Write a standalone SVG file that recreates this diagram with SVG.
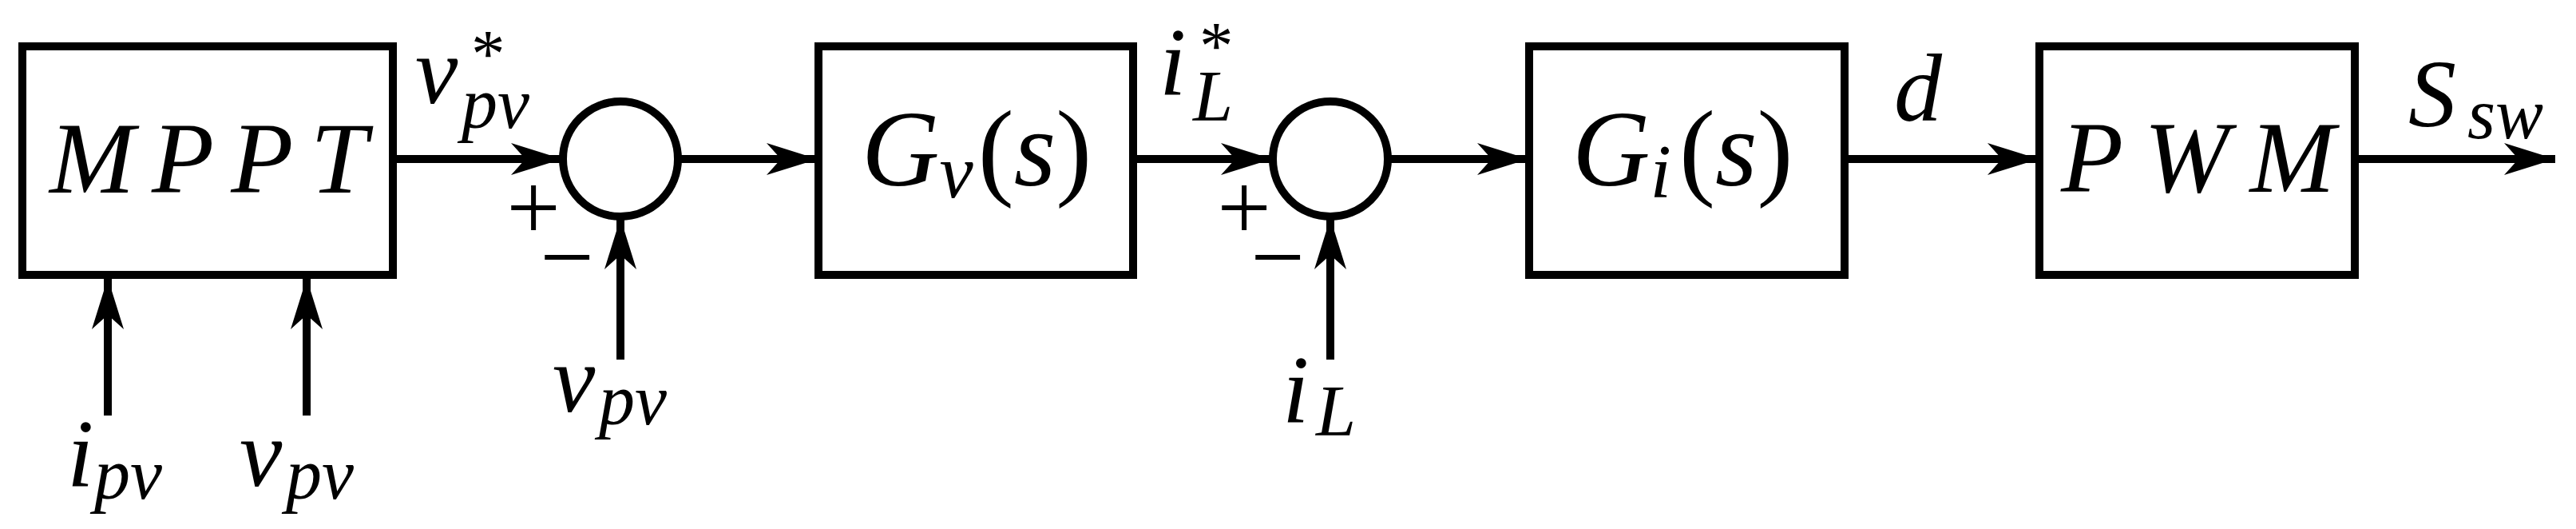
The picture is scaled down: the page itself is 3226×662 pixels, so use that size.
<svg xmlns="http://www.w3.org/2000/svg" width="3226" height="662" viewBox="0 0 3226 662">
<style>
.b{fill:#fff;stroke:#000;stroke-width:10}
.c{stroke:#000;stroke-width:10;fill:none}
.t{font-style:italic;fill:#000}
.u{font-style:normal;fill:#000}
</style>
<defs>
<marker id="a" markerUnits="userSpaceOnUse" markerWidth="80" markerHeight="50" viewBox="-70 -25 80 50" refX="0" refY="0" orient="auto">
<path d="M0,0 L-64,-20 L-46,0 L-64,20 Z" fill="#000"/>
</marker>
</defs>
<rect width="3226" height="662" fill="#fff"/>
<g id="connectors" class="c" marker-end="url(#a)">
<line x1="492" y1="199" x2="704" y2="199"/>
<line x1="849" y1="199" x2="1024" y2="199"/>
<line x1="1419" y1="199" x2="1593" y2="199"/>
<line x1="1738" y1="199" x2="1914" y2="199"/>
<line x1="2310" y1="199" x2="2553" y2="199"/>
<line x1="2949" y1="199" x2="3200" y2="199"/>
<line x1="135" y1="520" x2="135" y2="348"/>
<line x1="384" y1="520" x2="384" y2="348"/>
<line x1="777" y1="450" x2="777" y2="273"/>
<line x1="1666" y1="450" x2="1666" y2="273"/>
</g>
<g font-family="'Liberation Serif', 'DejaVu Serif', 'Times New Roman', serif">
<g id="mppt"><rect class="b" x="28" y="58" width="464" height="286"/>
<text class="t" x="62" y="241" font-size="128" textLength="398" lengthAdjust="spacing">MPPT</text></g>
<g id="sum1"><circle class="c" cx="777" cy="199" r="72"/>
<text class="u" x="668" y="300" font-size="120" text-anchor="middle">+</text>
<text class="u" x="710" y="362" font-size="120" text-anchor="middle">−</text></g>
<g id="gv"><rect class="b" x="1025" y="58" width="394" height="286"/>
<text class="t" x="1079" y="232" font-size="135">G<tspan font-size="95" dy="15">v</tspan><tspan class="u" dx="6" dy="-15">(</tspan>s<tspan class="u">)</tspan></text></g>
<g id="sum2"><circle class="c" cx="1666" cy="199" r="72"/>
<text class="u" x="1558" y="300" font-size="120" text-anchor="middle">+</text>
<text class="u" x="1600" y="362" font-size="120" text-anchor="middle">−</text></g>
<g id="gi"><rect class="b" x="1915" y="58" width="395" height="286"/>
<text class="t" x="1969" y="232" font-size="135">G<tspan font-size="95" dy="15">i</tspan><tspan class="u" dx="10" dy="-15">(</tspan>s<tspan class="u">)</tspan></text></g>
<g id="pwm"><rect class="b" x="2554" y="58" width="395" height="286"/>
<text class="t" x="2581" y="240" font-size="128" textLength="343" lengthAdjust="spacing">PWM</text></g>
<g id="labels">
<text class="t" x="520" y="129" font-size="120">v<tspan font-size="90" x="578" y="160">pv</tspan></text>
<text class="u" x="590" y="96" font-size="85">*</text>
<text class="t" x="1452" y="118" font-size="120">i</text>
<text class="u" x="1502" y="86" font-size="85">*</text>
<text class="t" x="1494" y="151" font-size="90">L</text>
<text class="t" x="2372" y="151" font-size="120">d</text>
<text class="t" x="3016" y="158" font-size="120">S<tspan font-size="90" x="3090" y="173">sw</tspan></text>
<text class="t" x="84" y="608" font-size="120">i<tspan font-size="90" x="118" y="624">pv</tspan></text>
<text class="t" x="300" y="608" font-size="120">v<tspan font-size="90" x="358" y="624">pv</tspan></text>
<text class="t" x="692" y="515" font-size="120">v<tspan font-size="90" x="750" y="531">pv</tspan></text>
<text class="t" x="1606" y="528" font-size="120">i<tspan font-size="90" x="1648" y="545">L</tspan></text>
</g>
</g>
</svg>
